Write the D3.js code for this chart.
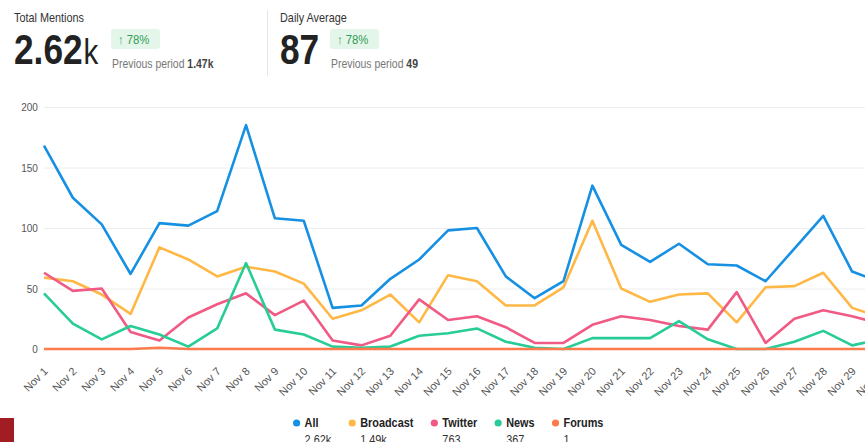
<!DOCTYPE html>
<html>
<head>
<meta charset="utf-8">
<script src="https://cdn.jsdelivr.net/npm/d3@7/dist/d3.min.js"></script>
<style>
  body { margin: 0; background: #fff; overflow: hidden; }
  svg { display: block; font-family: "Liberation Sans", Arial, sans-serif; }
</style>
</head>
<body>
<svg width="865" height="442"></svg>
<script>
// data
const days = ["Nov 1","Nov 2","Nov 3","Nov 4","Nov 5","Nov 6","Nov 7","Nov 8","Nov 9","Nov 10",
  "Nov 11","Nov 12","Nov 13","Nov 14","Nov 15","Nov 16","Nov 17","Nov 18","Nov 19","Nov 20",
  "Nov 21","Nov 22","Nov 23","Nov 24","Nov 25","Nov 26","Nov 27","Nov 28","Nov 29","Nov 30"];

const allMentions = [168,125,103,62,104,102,114,185,108,106,34,36,58,74,98,100,60,42,56,135,86,72,87,70,69,56,83,110,64,55];
const broadcast = [59,56,45,29,84,74,60,68,64,54,25,32,45,22,61,56,36,36,51,106,50,39,45,46,22,51,52,63,34,26];
const twitter = [63,48,50,14,7,26,37,46,28,40,7,3,11,41,24,27,18,5,5,20,27,24,19,16,47,5,25,32,27,21];
const news = [46,21,8,19,12,2,17,71,16,12,2,1,2,11,13,17,6,1,0,9,9,9,23,8,0,0,6,15,3,8];
const forums = [0,0,0,0,1,0,0,0,0,0,0,0,0,0,0,0,0,0,0,0,0,0,0,0,0,0,0,0,0,0];

const seriesNames = ["All", "Broadcast", "Twitter", "News", "Forums"];
const seriesTotals = ["2.62k", "1.49k", "763", "367", "1"];
const seriesColors = ["#1690e3", "#ffb845", "#f05a84", "#27cc97", "#ff7b4d"];
const yTicks = [0, 50, 100, 150, 200];

const stats = [
  { title: "Total Mentions", big: "2.62", unit: "k", change: "78%", prev: "1.47k" },
  { title: "Daily Average", big: "87", unit: "", change: "78%", prev: "49" }
];

const SX = 0.87; // text in the shot is a bit narrow

const svg = d3.select("svg");

function txt(parent, x, y, str, size, weight, fill, sx) {
  return parent.append("text")
    .attr("transform", `translate(${x},${y}) scale(${sx || SX},1)`)
    .attr("font-size", size)
    .attr("font-weight", weight || "normal")
    .attr("fill", fill || "#333")
    .text(str);
}

// header stats
const head = svg.append("g");
const statX = [14, 280];
stats.forEach((s, i) => {
  const x0 = statX[i];
  txt(head, x0, 22, s.title, 12.5, "normal", "#333");
  const big = txt(head, x0, 64, s.big, 43, "bold", "#222", 0.82);
  const bw = big.node().getComputedTextLength() * 0.82;
  if (s.unit) txt(head, x0 + bw + 1, 64, s.unit, 36, "normal", "#222", 0.82);
  const bx = x0 + (i === 0 ? 97 : 50);
  head.append("rect")
    .attr("x", bx).attr("y", 29).attr("width", 49).attr("height", 20)
    .attr("rx", 3).attr("fill", "#e4f6e9");
  txt(head, bx + 7, 44, "\u2191 " + s.change, 13, "normal", "#2f9d55");
  const p = txt(head, bx + 1, 68, "Previous period ", 12, "normal", "#777");
  p.append("tspan").attr("font-weight", "bold").attr("fill", "#444").text(s.prev);
});
head.append("line")
  .attr("x1", 267.5).attr("x2", 267.5).attr("y1", 10).attr("y2", 76)
  .attr("stroke", "#e6e6e6");

// chart
const x = d3.scalePoint().domain(days).range([44, 881]);
const y = d3.scaleLinear().domain([0, 200]).range([349, 107]);

svg.append("g")
  .attr("transform", "translate(44,0)")
  .call(d3.axisLeft(y).tickValues(yTicks).tickSize(-900).tickFormat(""))
  .call(g => g.select(".domain").remove())
  .call(g => g.selectAll("line").attr("stroke", "#eeeeee"));

svg.append("g")
  .attr("transform", "translate(44,0)")
  .call(d3.axisLeft(y).tickValues(yTicks).tickSize(0).tickPadding(7))
  .call(g => g.select(".domain").remove())
  .call(g => g.selectAll("text")
    .attr("font-size", 11.5)
    .attr("font-family", "Liberation Sans, Arial, sans-serif")
    .attr("fill", "#555")
    .attr("transform", `scale(${SX},1)`));

svg.append("g")
  .attr("transform", "translate(0,349)")
  .call(d3.axisBottom(x).tickSize(0))
  .call(g => g.select(".domain").remove())
  .call(g => g.selectAll("text")
    .attr("font-size", 11)
    .attr("font-family", "Liberation Sans, Arial, sans-serif")
    .attr("fill", "#555")
    .attr("text-anchor", "end")
    .attr("x", 0).attr("y", 0).attr("dy", 0)
    .attr("transform", "translate(4,23) rotate(-45)"));

const seriesData = [allMentions, broadcast, twitter, news, forums];
const line = d3.line()
  .x((d, i) => x(days[i]))
  .y(d => y(d));

svg.append("g")
  .selectAll("path")
  .data(seriesData)
  .enter().append("path")
  .attr("d", d => line(d))
  .attr("fill", "none")
  .attr("stroke", (d, i) => seriesColors[i])
  .attr("stroke-width", 2.6)
  .attr("stroke-linejoin", "round");

// legend
const legend = svg.append("g");
const items = seriesNames.map((name, i) => {
  const g = legend.append("g");
  g.append("circle").attr("cx", 0).attr("cy", 0).attr("r", 3.6).attr("fill", seriesColors[i]);
  const a = txt(g, 8, 4, name, 12.5, "bold", "#222");
  const b = txt(g, 8, 21, seriesTotals[i], 12.5, "normal", "#333");
  const w = Math.max(a.node().getComputedTextLength(), b.node().getComputedTextLength()) * SX;
  return { g, w: 8 + w };
});
const gap = 21;
const total = d3.sum(items, d => d.w) + gap * (items.length - 1) + 4;
let lx = 448 - total / 2 + 4;
items.forEach(it => {
  it.g.attr("transform", `translate(${lx},423)`);
  lx += it.w + gap;
});

// stray red block at bottom left
svg.append("rect")
  .attr("x", 0).attr("y", 418).attr("width", 14).attr("height", 24)
  .attr("fill", "#a11d23");
</script>
</body>
</html>
